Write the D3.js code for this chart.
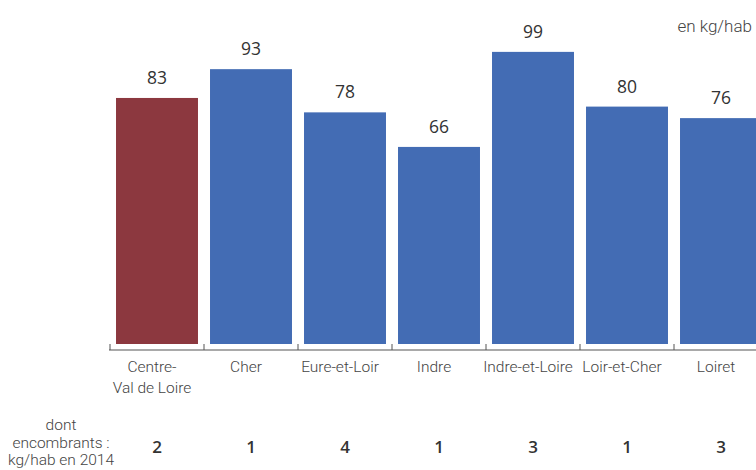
<!DOCTYPE html>
<html><head><meta charset="utf-8">
<script src="https://cdn.jsdelivr.net/npm/d3@7"></script>
<style>body{margin:0;background:#fff}svg{display:block;font-family:"Open Sans",Lato,sans-serif}.lt{font-family:Roboto,"Open Sans",sans-serif}</style>
</head><body><svg id="c" width="756" height="470"></svg>
<script>
const categories = [["Centre-","Val de Loire"],["Cher"],["Eure-et-Loir"],["Indre"],["Indre-et-Loire"],["Loir-et-Cher"],["Loiret"]];
const values = [83, 93, 78, 66, 99, 80, 76];
const encombrants = [2, 1, 4, 1, 3, 1, 3];
const highlight = [true, false, false, false, false, false, false];
const unitLabel = "en kg/hab";
const rowLabel = ["dont", "encombrants :", "kg/hab en 2014"];

const svg = d3.select("#c");
const ids = d3.range(values.length);
const x = d3.scaleBand().domain(ids).range([110, 768]).paddingInner(0.128).paddingOuter(0.064);
const y = d3.scaleLinear().domain([0, 100]).range([337, 49]);
const base = 344;
const labelShift = -5;

svg.append("g").selectAll("rect").data(ids).join("rect")
  .attr("x", i => x(i)).attr("width", x.bandwidth())
  .attr("y", i => y(values[i])).attr("height", i => base - y(values[i]))
  .attr("fill", i => highlight[i] ? "#8C383F" : "#436CB4");

svg.append("g").selectAll("text").data(ids).join("text")
  .attr("x", i => x(i) + x.bandwidth()/2).attr("y", i => y(values[i]) - 14)
  .attr("text-anchor", "middle").attr("font-size", 17.5).attr("font-weight", 500).attr("fill", "#333")
  .text(i => values[i]);

// axis
const step = x.step();
const axisY = 350;
const ax = svg.append("g");
ax.append("line").attr("x1", 109).attr("x2", 756).attr("y1", axisY).attr("y2", axisY).attr("stroke", "#555").attr("stroke-width", 1.2);
ax.selectAll("line.t").data(ids).join("line").attr("class","t")
  .attr("x1", i => x(i) - (step - x.bandwidth())/2 ).attr("x2", i => x(i) - (step - x.bandwidth())/2)
  .attr("y1", axisY - 6).attr("y2", axisY).attr("stroke", "#555");

ax.selectAll("text.c").data(ids).join("text").attr("class","c lt")
  .attr("text-anchor", "middle").attr("font-size", 15.5).attr("font-weight", 300).attr("fill", "#444")
  .each(function(i){
    const t = d3.select(this);
    categories[i].forEach((l, k) => t.append("tspan").attr("x", x(i) + x.bandwidth()/2 + labelShift).attr("y", 372 + k*21).text(l));
  });

svg.append("text").attr("class","lt").attr("x", 752).attr("y", 32).attr("text-anchor", "end")
  .attr("font-size", 17).attr("font-weight", 300).attr("fill", "#444").text(unitLabel);

const rl = svg.append("g").attr("class","lt").attr("font-size", 15.5).attr("font-weight", 300).attr("fill", "#444").attr("text-anchor", "middle");
rl.selectAll("text").data(rowLabel).join("text").attr("x", 61).attr("y", (d, k) => 430 + k*17.5).text(d => d);

svg.append("g").selectAll("text").data(ids).join("text")
  .attr("x", i => x(i) + x.bandwidth()/2).attr("y", 453)
  .attr("text-anchor", "middle").attr("font-size", 17).attr("font-weight", 600).attr("fill", "#333")
  .text(i => encombrants[i]);
</script></body></html>
